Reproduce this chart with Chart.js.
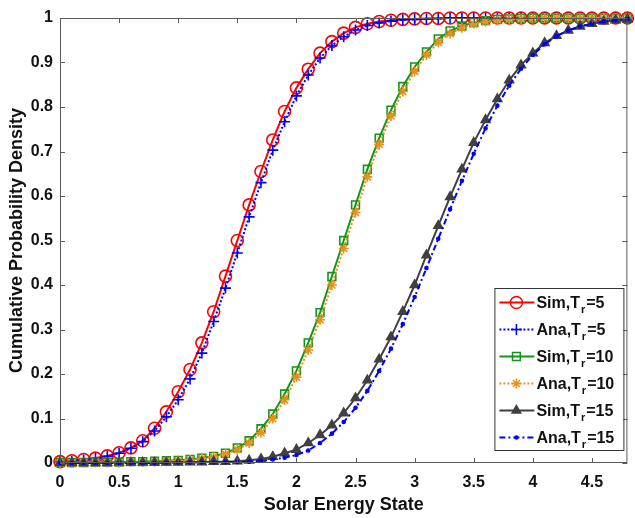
<!DOCTYPE html>
<html lang="en">
<head>
<meta charset="UTF-8">
<title>Cumulative Probability Density</title>
<script src="https://cdn.jsdelivr.net/npm/chart.js@4.4.0/dist/chart.umd.min.js"></script>
<style>
  html, body { margin: 0; padding: 0; background: #fff; }
</style>
</head>
<body>
<canvas id="myChart" width="635" height="518"></canvas>
<script>
// x positions of the markers (solar energy state)
const xValues = [0, 0.1, 0.2, 0.3, 0.4, 0.5, 0.6, 0.7, 0.8, 0.9,
                 1.0, 1.1, 1.2, 1.3, 1.4, 1.5, 1.6, 1.7, 1.8, 1.9,
                 2.0, 2.1, 2.2, 2.3, 2.4, 2.5, 2.6, 2.7, 2.8, 2.9,
                 3.0, 3.1, 3.2, 3.3, 3.4, 3.5, 3.6, 3.7, 3.8, 3.9,
                 4.0, 4.1, 4.2, 4.3, 4.4, 4.5, 4.6, 4.7, 4.8];

const simTr5 = [0.003, 0.005, 0.008, 0.011, 0.016, 0.023, 0.034, 0.050, 0.078, 0.115,
                0.160, 0.210, 0.270, 0.340, 0.420, 0.500, 0.580, 0.655, 0.726, 0.790,
                0.843, 0.885, 0.921, 0.947, 0.966, 0.979, 0.987, 0.992, 0.995, 0.997,
                0.998, 0.999, 0.999, 1, 1, 1, 1, 1, 1, 1,
                1, 1, 1, 1, 1, 1, 1, 1, 1];
const anaTr5 = [0.002, 0.004, 0.007, 0.010, 0.015, 0.022, 0.033, 0.048, 0.072, 0.104,
                0.142, 0.189, 0.247, 0.318, 0.393, 0.472, 0.553, 0.630, 0.703, 0.767,
                0.825, 0.872, 0.910, 0.938, 0.958, 0.973, 0.983, 0.989, 0.993, 0.996,
                0.997, 0.998, 0.999, 1, 1, 1, 1, 1, 1, 1,
                1, 1, 1, 1, 1, 1, 1, 1, 1];
const simTr10 = [0.001, 0.001, 0.001, 0.002, 0.002, 0.002, 0.003, 0.003, 0.004, 0.005,
                 0.006, 0.008, 0.011, 0.015, 0.022, 0.034, 0.050, 0.077, 0.110, 0.155,
                 0.207, 0.270, 0.338, 0.419, 0.500, 0.580, 0.660, 0.730, 0.793, 0.846,
                 0.890, 0.924, 0.953, 0.971, 0.982, 0.990, 0.994, 0.997, 0.998, 0.999,
                 1, 1, 1, 1, 1, 1, 1, 1, 1];
const anaTr10 = [0, 0, 0.001, 0.001, 0.001, 0.001, 0.002, 0.002, 0.003, 0.004,
                 0.005, 0.007, 0.010, 0.014, 0.020, 0.030, 0.045, 0.068, 0.100, 0.142,
                 0.193, 0.254, 0.322, 0.400, 0.482, 0.563, 0.643, 0.716, 0.780, 0.835,
                 0.880, 0.917, 0.945, 0.965, 0.978, 0.987, 0.992, 0.995, 0.997, 0.998,
                 0.999, 1, 1, 1, 1, 1, 1, 1, 1];
const simTr15 = [0, 0, 0, 0, 0, 0.001, 0.001, 0.001, 0.001, 0.001,
                 0.001, 0.002, 0.002, 0.003, 0.003, 0.004, 0.006, 0.009, 0.014, 0.022,
                 0.030, 0.045, 0.063, 0.085, 0.112, 0.146, 0.186, 0.233, 0.283, 0.340,
                 0.400, 0.467, 0.533, 0.598, 0.660, 0.720, 0.771, 0.818, 0.860, 0.894,
                 0.921, 0.944, 0.960, 0.972, 0.981, 0.987, 0.992, 0.995, 0.997];
const anaTr15 = [0, 0, 0, 0, 0, 0, 0, 0, 0, 0.001,
                 0.001, 0.001, 0.001, 0.001, 0.002, 0.002, 0.003, 0.005, 0.008, 0.012,
                 0.018, 0.028, 0.045, 0.066, 0.092, 0.124, 0.162, 0.207, 0.257, 0.312,
                 0.373, 0.438, 0.504, 0.570, 0.634, 0.695, 0.752, 0.803, 0.848, 0.886,
                 0.917, 0.941, 0.959, 0.972, 0.981, 0.987, 0.992, 0.995, 0.997];

const xTicks = [0, 0.5, 1, 1.5, 2, 2.5, 3, 3.5, 4, 4.5];
const yTicks = [0, 0.1, 0.2, 0.3, 0.4, 0.5, 0.6, 0.7, 0.8, 0.9, 1];

const FONT = '"Liberation Sans", Arial, sans-serif';

function pts(ys) {
    return ys.map((y, i) => ({ x: xValues[i], y: y }));
}

// one entry per curve, also used for the legend
const series = [
    { label: 'Sim,T', sub: 'r', tail: '=5',  data: simTr5,  color: '#ff0000', dash: [],           style: 'circle',   r: 6,   fill: 'rgba(0,0,0,0)' },
    { label: 'Ana,T', sub: 'r', tail: '=5',  data: anaTr5,  color: '#0000ff', dash: [2, 2],       style: 'cross',    r: 5.5, fill: '#0000ff' },
    { label: 'Sim,T', sub: 'r', tail: '=10', data: simTr10, color: '#13951a', dash: [],           style: 'rect',     r: 5.5, fill: 'rgba(0,0,0,0)' },
    { label: 'Ana,T', sub: 'r', tail: '=10', data: anaTr10, color: '#e8901c', dash: [2, 2],       style: 'star',     r: 5,   fill: '#e8901c' },
    { label: 'Sim,T', sub: 'r', tail: '=15', data: simTr15, color: '#404040', dash: [],           style: 'triangle', r: 5,   fill: '#404040' },
    { label: 'Ana,T', sub: 'r', tail: '=15', data: anaTr15, color: '#0000ff', dash: [6, 3, 2, 3], style: 'circle',   r: 1.5, fill: '#0000ff' }
];

// box with inward tick marks, like a matlab axes
const frame = {
    id: 'frame',
    afterDatasetsDraw(chart) {
        const ctx = chart.ctx;
        const a = chart.chartArea;
        const xs = chart.scales.x, ys = chart.scales.y;
        ctx.save();
        ctx.strokeStyle = '#5a5a5a';
        ctx.lineWidth = 1;
        ctx.setLineDash([]);
        ctx.strokeRect(a.left + 0.5, a.top + 0.5, a.right - a.left - 1, a.bottom - a.top - 1);
        ctx.beginPath();
        xTicks.forEach(v => {
            const px = Math.round(xs.getPixelForValue(v)) + 0.5;
            ctx.moveTo(px, a.bottom); ctx.lineTo(px, a.bottom - 5);
            ctx.moveTo(px, a.top); ctx.lineTo(px, a.top + 5);
        });
        yTicks.forEach(v => {
            const py = Math.round(ys.getPixelForValue(v)) + 0.5;
            ctx.moveTo(a.left, py); ctx.lineTo(a.left + 5, py);
            ctx.moveTo(a.right, py); ctx.lineTo(a.right - 5, py);
        });
        ctx.stroke();
        ctx.restore();
    }
};

const legendBox = {
    id: 'legendBox',
    afterDraw(chart) {
        const ctx = chart.ctx;
        const a = chart.chartArea;
        const w = 129, rowH = 27;
        const h = rowH * series.length;
        const x0 = a.right - 4 - w;
        const y0 = a.bottom - 13 - h;
        ctx.save();
        ctx.fillStyle = '#fff';
        ctx.fillRect(x0, y0, w, h);
        ctx.strokeStyle = '#333';
        ctx.lineWidth = 1;
        ctx.strokeRect(x0 + 0.5, y0 + 0.5, w, h);
        series.forEach((s, i) => {
            const cy = y0 + rowH * (i + 0.5) + 1;
            ctx.strokeStyle = s.color;
            ctx.lineWidth = 2;
            ctx.setLineDash(s.dash);
            ctx.beginPath();
            ctx.moveTo(x0 + 5, cy);
            ctx.lineTo(x0 + 40, cy);
            ctx.stroke();
            ctx.setLineDash([]);
            ctx.fillStyle = s.fill;
            ctx.lineWidth = 1.5;
            Chart.helpers.drawPoint(ctx, { pointStyle: s.style, radius: s.r, rotation: 0, borderWidth: 1.5 }, x0 + 22, cy);
            ctx.fillStyle = '#111';
            ctx.textBaseline = 'alphabetic';
            ctx.font = 'bold 16px ' + FONT;
            let tx = x0 + 42;
            ctx.fillText(s.label, tx, cy + 5);
            tx += ctx.measureText(s.label).width + 1;
            ctx.font = 'bold 11px ' + FONT;
            ctx.fillText(s.sub, tx, cy + 10);
            tx += ctx.measureText(s.sub).width + 1;
            ctx.font = 'bold 16px ' + FONT;
            ctx.fillText(s.tail, tx, cy + 5);
        });
        ctx.restore();
    }
};

const ctx = document.getElementById('myChart');

new Chart(ctx, {
    type: 'line',
    data: {
        datasets: series.map((s, i) => ({
            label: s.label + s.sub + s.tail,
            data: pts(s.data),
            borderColor: s.color,
            backgroundColor: s.fill,
            borderWidth: 2,
            borderDash: s.dash,
            pointStyle: s.style,
            pointRadius: s.r,
            pointBorderWidth: 1.6,
            pointBorderColor: s.color,
            pointBackgroundColor: s.fill,
            tension: 0,
            fill: false,
            clip: false,
            order: series.length - i
        }))
    },
    options: {
        responsive: false,
        animation: false,
        devicePixelRatio: 1,
        layout: { padding: { top: 18, right: 3, left: 0, bottom: 0 } },
        plugins: {
            legend: { display: false },
            tooltip: { enabled: false }
        },
        scales: {
            x: {
                type: 'linear',
                min: 0,
                max: 4.8,
                grid: { display: false, drawTicks: false },
                border: { display: false },
                afterBuildTicks: scale => { scale.ticks = xTicks.map(v => ({ value: v })); },
                afterFit: scale => { scale.height = 55; },
                ticks: {
                    padding: 10,
                    maxRotation: 0,
                    color: '#111',
                    callback: v => String(v),
                    font: { family: FONT, size: 16, weight: 'bold' }
                },
                title: {
                    display: true,
                    text: 'Solar Energy State',
                    color: '#111',
                    padding: { bottom: 2, top: 0 },
                    font: { family: FONT, size: 18, weight: 'bold' }
                }
            },
            y: {
                min: 0,
                max: 1,
                grid: { display: false, drawTicks: false },
                border: { display: false },
                afterBuildTicks: scale => { scale.ticks = yTicks.map(v => ({ value: v })); },
                afterFit: scale => { scale.width = 60; },
                ticks: {
                    padding: 7,
                    color: '#111',
                    callback: v => String(v),
                    font: { family: FONT, size: 16, weight: 'bold' }
                },
                title: {
                    display: true,
                    text: 'Cumulative Probability Density',
                    color: '#111',
                    padding: { top: 6, bottom: 0 },
                    font: { family: FONT, size: 18, weight: 'bold' }
                }
            }
        }
    },
    plugins: [frame, legendBox]
});
</script>
</body>
</html>
